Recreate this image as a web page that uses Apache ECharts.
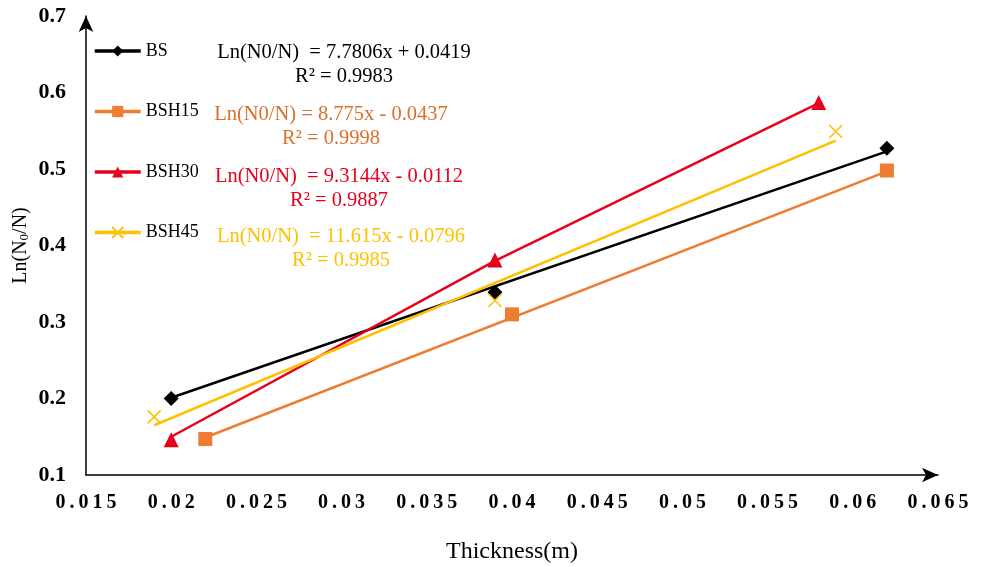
<!DOCTYPE html>
<html>
<head>
<meta charset="utf-8">
<script src="https://cdn.jsdelivr.net/npm/echarts@6/dist/echarts.min.js"></script>
<style>
  html, body { margin: 0; padding: 0; background: #fff; }
  #chart { width: 985px; height: 567px; }
</style>
</head>
<body>
<div id="chart"></div>
<script>
// measured points (thickness m, Ln(N0/N))
var bsPts    = [[0.020, 0.200], [0.039, 0.339], [0.062, 0.527]];
var bsh15Pts = [[0.022, 0.147], [0.040, 0.310], [0.062, 0.498]];
var bsh30Pts = [[0.020, 0.146], [0.039, 0.381], [0.058, 0.587]];
var bsh45Pts = [[0.019, 0.176], [0.039, 0.328], [0.059, 0.549]];

// drawn lines as seen on the figure
var bsLine    = [[0.020, 0.201], [0.062, 0.523]];
var bsh15Line = [[0.022, 0.149], [0.062, 0.497]];
var bsh30Line = [[0.020, 0.150], [0.039, 0.380], [0.058, 0.586]];
var bsh45Line = [[0.019, 0.165], [0.059, 0.537]];

var names  = ['BS', 'BSH15', 'BSH30', 'BSH45'];
var colors = ['#000000', '#ED7D31', '#E8001C', '#FFC000'];
var eqs = [
    ['Ln(N0/N)  = 7.7806x + 0.0419', 'R² = 0.9983'],
    ['Ln(N0/N) = 8.775x - 0.0437', 'R² = 0.9998'],
    ['Ln(N0/N)  = 9.3144x - 0.0112', 'R² = 0.9887'],
    ['Ln(N0/N)  = 11.615x - 0.0796', 'R² = 0.9985']
];
var eqColors = ['#000000', '#D9702B', '#E8001C', '#FFC000'];

var xMin = 0.015, xMax = 0.065, xStep = 0.005;
var yMin = 0.1, yMax = 0.7, yStep = 0.1;

var crossPath = 'path://M0,0L10,10M10,0L0,10';
var symbols = ['diamond', 'rect', 'triangle', crossPath];
var symSizes = [15, 14, 15, 13];
var lines = [bsLine, bsh15Line, bsh30Line, bsh45Line];
var pts = [bsPts, bsh15Pts, bsh30Pts, bsh45Pts];

var serif = '"Liberation Serif", "Times New Roman", serif';

var chart = echarts.init(document.getElementById('chart'));

function markStyle(i) {
    return i === 3
        ? { color: 'rgba(0,0,0,0)', borderColor: colors[i], borderWidth: 1.5, opacity: 1 }
        : { color: colors[i], opacity: 1 };
}

var series = [];
names.forEach(function (n, i) {
    series.push({
        name: n,
        type: 'line',
        data: lines[i],
        symbol: symbols[i],
        symbolSize: symSizes[i],
        showSymbol: false,
        lineStyle: { color: colors[i], width: 2.5 },
        itemStyle: markStyle(i),
        silent: true,
        z: 2
    });
});
names.forEach(function (n, i) {
    series.push({
        name: n,
        type: 'scatter',
        data: pts[i],
        symbol: symbols[i],
        symbolSize: symSizes[i],
        itemStyle: markStyle(i),
        z: 3
    });
});

var graphics = [];
var eqX = [344, 331, 339, 341];
var eqY = [65, 127, 189, 249];
eqs.forEach(function (e, i) {
    graphics.push({
        type: 'text', x: eqX[i], y: eqY[i],
        style: {
            text: e[0] + '\n' + e[1], fill: eqColors[i],
            font: '20.5px ' + serif, textAlign: 'center', textVerticalAlign: 'middle',
            lineHeight: 24
        }
    });
});

chart.setOption({
    backgroundColor: '#fff',
    animation: false,
    grid: { left: 86, right: 47, top: 16, bottom: 92, containLabel: false, outerBoundsMode: 'none' },
    legend: {
        data: names,
        orient: 'vertical',
        left: 93,
        top: 41,
        padding: 0,
        itemWidth: 46,
        itemHeight: 14,
        itemGap: 40.5,
        lineStyle: { width: 3.5 },
        textStyle: { fontFamily: serif, fontSize: 18, color: '#000', lineHeight: 20 }
    },
    xAxis: {
        type: 'value',
        min: xMin, max: xMax, interval: xStep,
        name: 'Thickness(m)',
        nameLocation: 'middle',
        nameGap: 65,
        nameTextStyle: { fontFamily: serif, fontSize: 24, color: '#000' },
        splitLine: { show: false },
        axisTick: { show: false },
        axisLine: {
            lineStyle: { color: '#000', width: 1.5 },
            symbol: ['none', 'arrow'], symbolSize: [11, 16]
        },
        axisLabel: {
            margin: 18,
            fontFamily: serif, fontSize: 20, fontWeight: 'bold', color: '#000',
            formatter: function (v) {
                return String(+v.toFixed(3)).split('').join('\u2009');
            }
        }
    },
    yAxis: {
        type: 'value',
        min: yMin, max: yMax, interval: yStep,
        name: 'Ln(N{sub|0}/N)',
        nameLocation: 'middle',
        nameRotate: 90,
        nameGap: 55,
        nameMoveOverlap: false,
        nameTextStyle: {
            fontFamily: serif, fontSize: 20, color: '#000',
            rich: { sub: { fontFamily: serif, fontSize: 13, verticalAlign: 'bottom', padding: [8, 0, 0, 0] } }
        },
        splitLine: { show: false },
        axisTick: { show: false },
        axisLine: {
            lineStyle: { color: '#000', width: 1.5 },
            symbol: ['none', 'arrow'], symbolSize: [11, 16]
        },
        axisLabel: {
            margin: 20,
            fontFamily: serif, fontSize: 22, fontWeight: 'bold', color: '#000',
            formatter: function (v) { return (+v.toFixed(1)).toString(); }
        }
    },
    graphic: graphics,
    series: series
});
</script>
</body>
</html>
